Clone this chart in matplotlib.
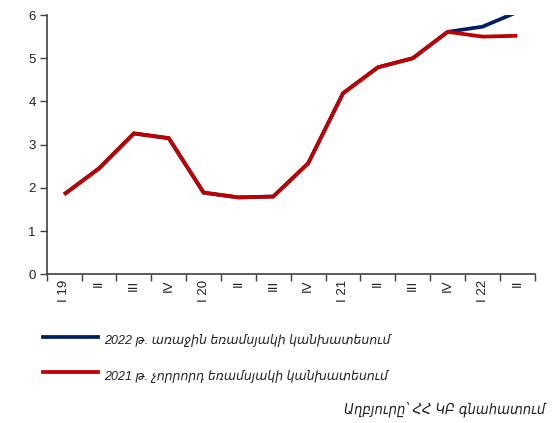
import matplotlib
matplotlib.use("Agg")
import matplotlib.pyplot as plt
import numpy as np
from matplotlib.lines import Line2D

categories = ["I 19", "II", "III", "IV", "I 20", "II", "III", "IV",
              "I 21", "II", "III", "IV", "I 22", "II"]
forecast_2022q1 = [1.85, 2.45, 3.26, 3.15, 1.89, 1.78, 1.80, 2.57,
                   4.19, 4.79, 5.00, 5.61, 5.73, 6.07]
forecast_2021q4 = [1.85, 2.45, 3.26, 3.15, 1.89, 1.78, 1.80, 2.57,
                   4.19, 4.79, 5.00, 5.61, 5.50, 5.52]
label_2022 = "2022 թ. առաջին եռամսյակի կանխատեսում"
label_2021 = "2021 թ. չորրորդ եռամսյակի կանխատեսում"
source_text = "Աղբյուրը՝ ՀՀ ԿԲ գնահատում"
yticks = [0, 1, 2, 3, 4, 5, 6]

fam = ["Liberation Sans", "DejaVu Sans"]
plt.rcParams["font.family"] = fam

blue = "#002060"
red = "#C00000"
axis_col = "#404040"

fig = plt.figure(figsize=(5.6, 4.23), dpi=100)
ax = fig.add_axes([0.0834, 0.3515, 0.8716, 0.613])

x = np.arange(len(categories))
ax.plot(x, forecast_2022q1, color=blue, lw=2.7, solid_joinstyle="miter",
        solid_capstyle="butt", zorder=2)
ax.plot(x, forecast_2021q4, color=red, lw=2.7, solid_joinstyle="miter",
        solid_capstyle="butt", zorder=3)

ax.set_xlim(-0.5, len(categories) - 0.5)
ax.set_ylim(0, 6)
ax.set_yticks(yticks)
ax.set_yticklabels([str(v) for v in yticks], fontsize=9.5, color="#222222")

ax.set_xticks(np.arange(-0.5, len(categories), 1.0))
ax.set_xticklabels([])
ax.set_xticks(x, minor=True)
ax.set_xticklabels(categories, minor=True, rotation=90, fontsize=9.5,
                   color="#222222", va="top", ha="center")
ax.tick_params(axis="x", which="minor", length=0, pad=4)
ax.tick_params(axis="x", which="major", length=5, width=1, color=axis_col,
               direction="out")
ax.tick_params(axis="y", length=5, width=1, color=axis_col, pad=3)

for s in ["top", "right"]:
    ax.spines[s].set_visible(False)
for s in ["left", "bottom"]:
    ax.spines[s].set_color(axis_col)
    ax.spines[s].set_linewidth(1.2)

# Legend (drawn manually below the plot)
fig.add_artist(Line2D([43 / 560, 98 / 560], [1 - 337 / 423, 1 - 337 / 423],
                      color=blue, lw=2.7, transform=fig.transFigure))
fig.add_artist(Line2D([43 / 560, 98 / 560], [1 - 372 / 423, 1 - 372 / 423],
                      color=red, lw=2.7, transform=fig.transFigure))
fig.text(104 / 560, 1 - 340 / 423, label_2022, fontsize=9, style="italic",
         va="center", ha="left", color="#222222")
fig.text(104 / 560, 1 - 376 / 423, label_2021, fontsize=9, style="italic",
         va="center", ha="left", color="#222222")
fig.text(545 / 560, 1 - 409 / 423, source_text, fontsize=10.5, style="italic",
         stretch="condensed", va="center", ha="right", color="#222222")

fig.savefig("out.png", dpi=100)
